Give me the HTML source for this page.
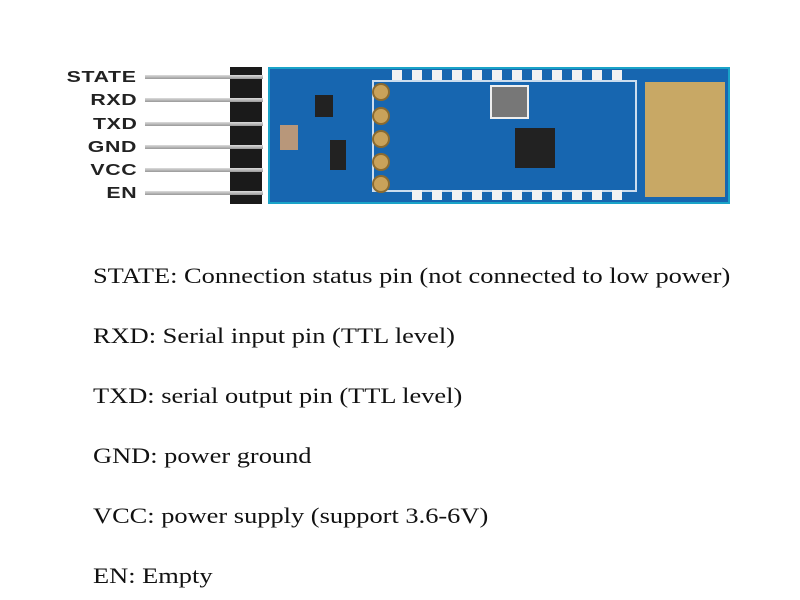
<!DOCTYPE html>
<html><head><style>
body{margin:0;width:800px;height:600px;background:#fff;position:relative;overflow:hidden}
.l{position:absolute;right:663px;font:bold 16px "Liberation Sans",sans-serif;color:#222;letter-spacing:0.5px;transform:scaleX(1.33);transform-origin:right center}
.p{position:absolute;left:145px;width:118px;height:4px;background:linear-gradient(#ddd,#999);}
.t{position:absolute;left:93px;font:22px "Liberation Serif",serif;color:#111;white-space:nowrap;transform:scaleX(1.2);transform-origin:left center}
.h{position:absolute;width:18px;height:18px;border-radius:50%;background:#c9a25a;border:2px solid #8a6a30;box-sizing:border-box}
.pad{position:absolute;width:10px;height:10px;background:#f2f2f2}
</style></head><body>
<div style="position:absolute;left:268px;top:67px;width:462px;height:137px;background:#1766b0;border:2px solid #1aa3c8;box-sizing:border-box"></div>
<div style="position:absolute;left:372px;top:80px;width:265px;height:112px;border:2px solid #cde;box-sizing:border-box"></div>
<div style="position:absolute;left:645px;top:82px;width:80px;height:115px;background:#c8a865"></div>
<div style="position:absolute;left:515px;top:128px;width:40px;height:40px;background:#222"></div>
<div style="position:absolute;left:490px;top:85px;width:35px;height:30px;background:#777;border:2px solid #eee"></div>
<div style="position:absolute;left:280px;top:125px;width:18px;height:25px;background:#b8977a"></div>
<div style="position:absolute;left:330px;top:140px;width:16px;height:30px;background:#222"></div>
<div style="position:absolute;left:315px;top:95px;width:18px;height:22px;background:#222"></div>
<div class="pad" style="left:392px;top:70px"></div><div class="pad" style="left:412px;top:70px"></div><div class="pad" style="left:432px;top:70px"></div><div class="pad" style="left:452px;top:70px"></div><div class="pad" style="left:472px;top:70px"></div><div class="pad" style="left:492px;top:70px"></div><div class="pad" style="left:512px;top:70px"></div><div class="pad" style="left:532px;top:70px"></div><div class="pad" style="left:552px;top:70px"></div><div class="pad" style="left:572px;top:70px"></div><div class="pad" style="left:592px;top:70px"></div><div class="pad" style="left:612px;top:70px"></div>
<div class="pad" style="left:412px;top:190px"></div><div class="pad" style="left:432px;top:190px"></div><div class="pad" style="left:452px;top:190px"></div><div class="pad" style="left:472px;top:190px"></div><div class="pad" style="left:492px;top:190px"></div><div class="pad" style="left:512px;top:190px"></div><div class="pad" style="left:532px;top:190px"></div><div class="pad" style="left:552px;top:190px"></div><div class="pad" style="left:572px;top:190px"></div><div class="pad" style="left:592px;top:190px"></div><div class="pad" style="left:612px;top:190px"></div>
<div style="position:absolute;left:230px;top:67px;width:32px;height:137px;background:#1a1a1a"></div>
<div class="h" style="left:372px;top:83px"></div><div class="h" style="left:372px;top:107px"></div><div class="h" style="left:372px;top:130px"></div><div class="h" style="left:372px;top:153px"></div><div class="h" style="left:372px;top:175px"></div>
<div class="l" style="top:69px">STATE</div><div class="l" style="top:92px">RXD</div><div class="l" style="top:116px">TXD</div><div class="l" style="top:139px">GND</div><div class="l" style="top:162px">VCC</div><div class="l" style="top:185px">EN</div>
<div class="p" style="top:75px"></div><div class="p" style="top:98px"></div><div class="p" style="top:122px"></div><div class="p" style="top:145px"></div><div class="p" style="top:168px"></div><div class="p" style="top:191px"></div>
<div class="t" style="top:263px">STATE: Connection status pin (not connected to low power)</div>
<div class="t" style="top:323px">RXD: Serial input pin (TTL level)</div>
<div class="t" style="top:383px">TXD: serial output pin (TTL level)</div>
<div class="t" style="top:443px">GND: power ground</div>
<div class="t" style="top:503px">VCC: power supply (support 3.6-6V)</div>
<div class="t" style="top:563px">EN: Empty</div>
</body></html>
